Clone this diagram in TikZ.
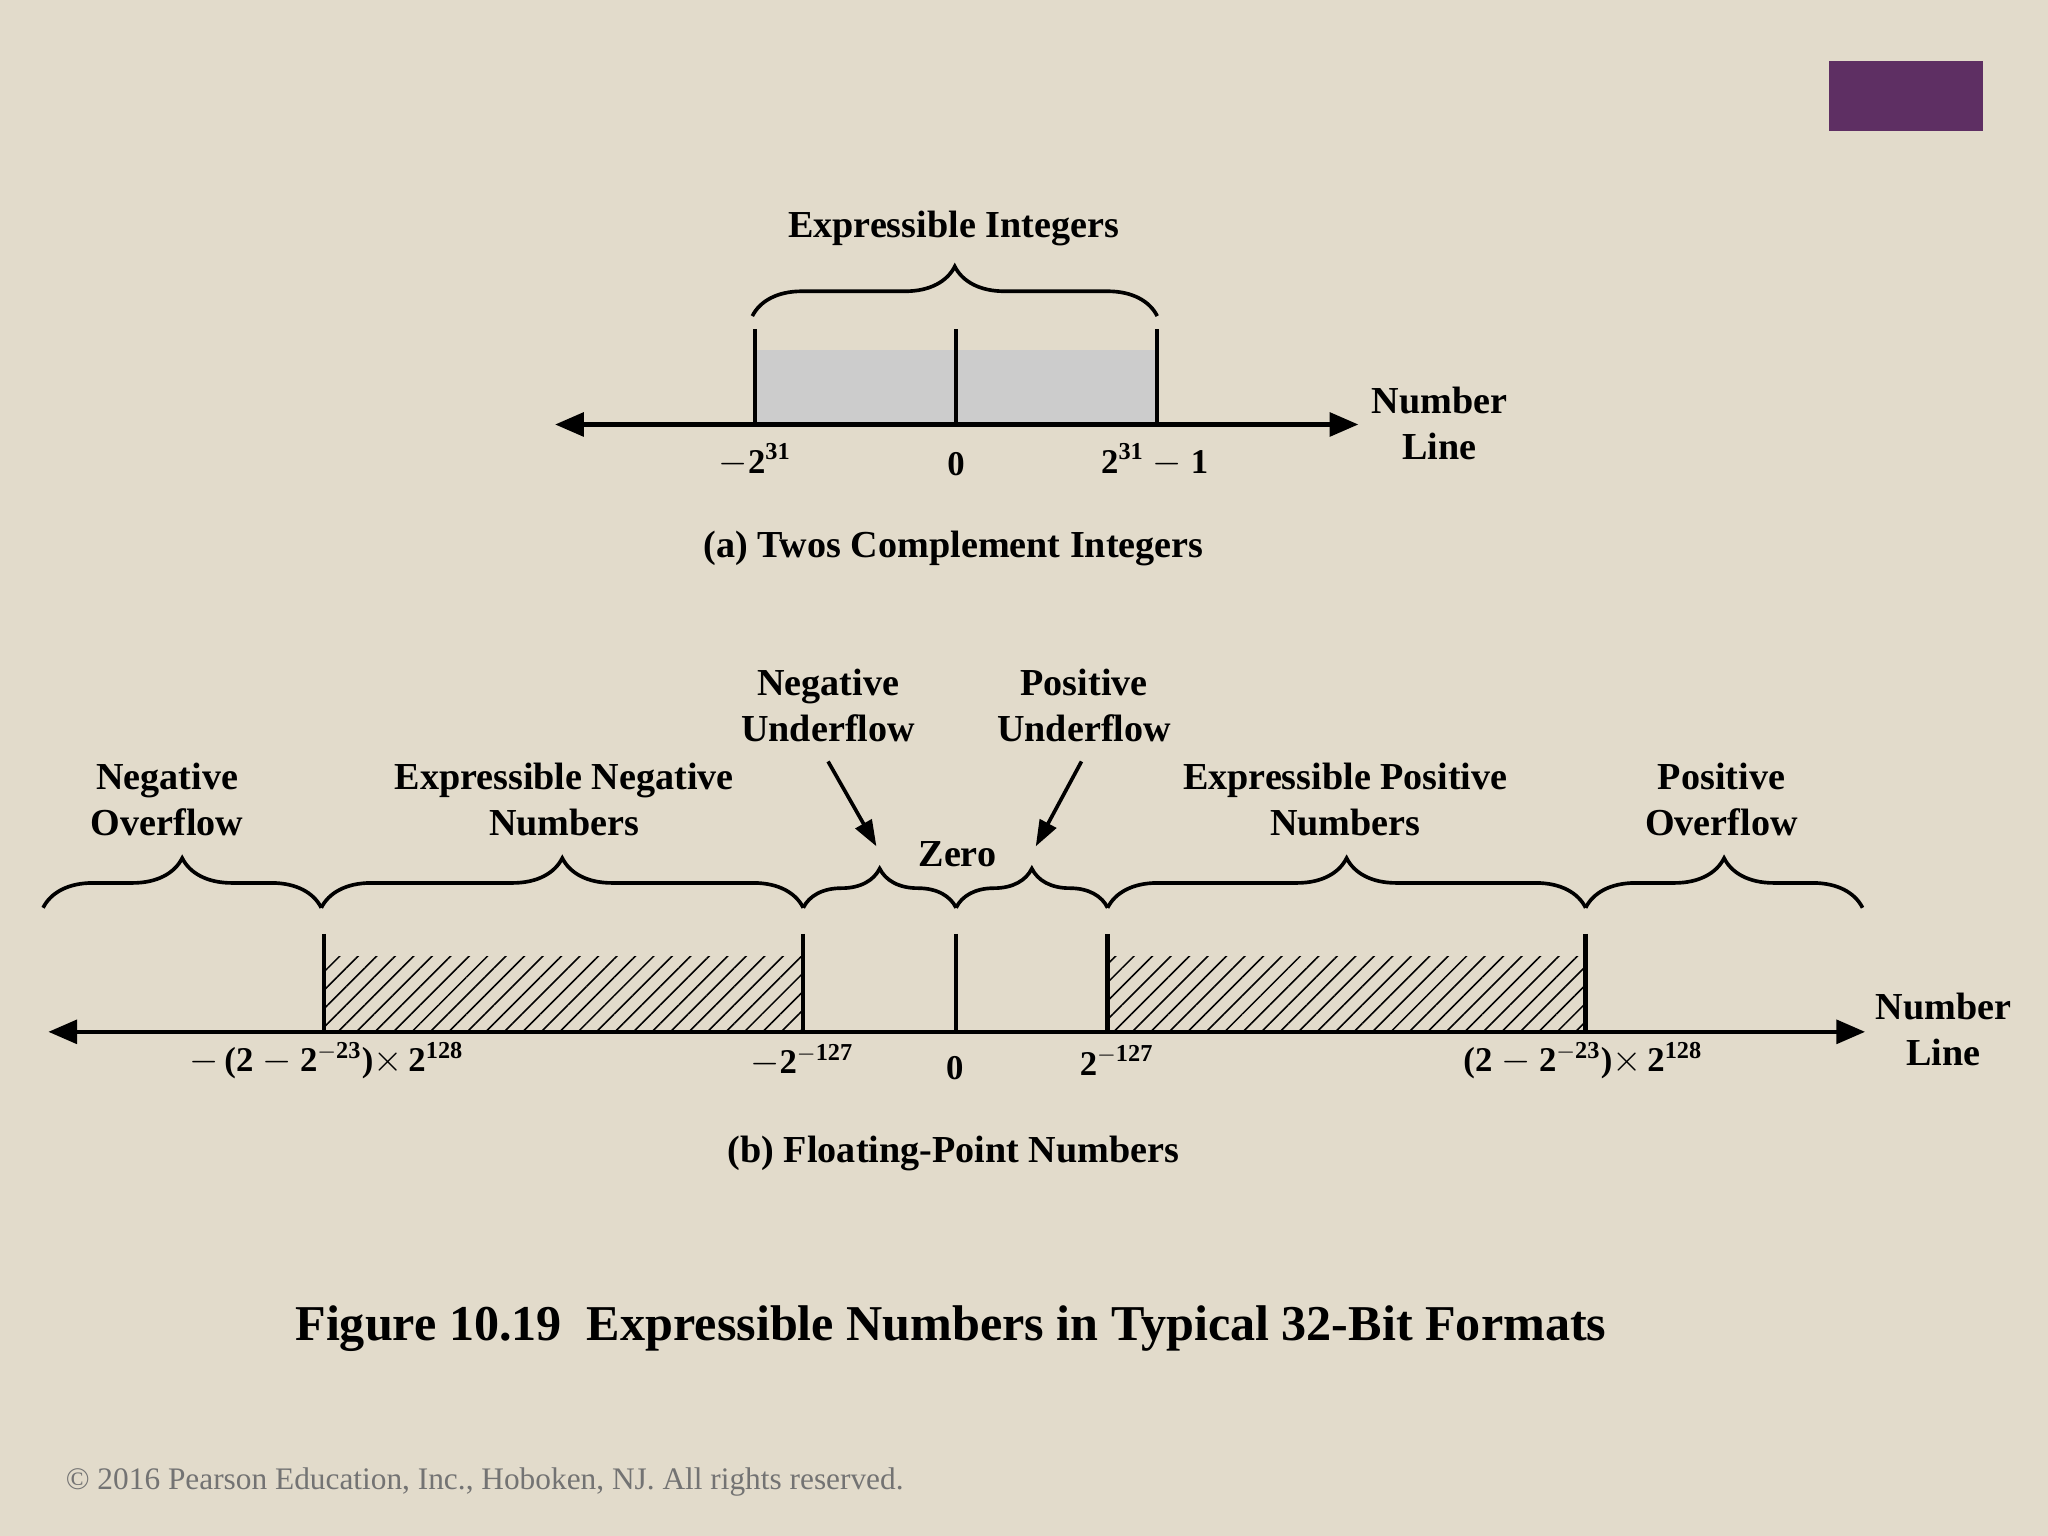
\documentclass[tikz,border=0pt]{standalone}
\usepackage{fontspec}
\setmainfont{Liberation Serif}
\usetikzlibrary{decorations.pathreplacing,patterns.meta,arrows.meta}
\definecolor{bg}{HTML}{E2DBCB}
\definecolor{purp}{HTML}{5E2F63}
\begin{document}
\begin{tikzpicture}[x=0.5pt,y=-0.5pt,
  lbl/.style={font=\bfseries\fontsize{14.6}{17.5}\selectfont,align=center,inner sep=0pt},
  tick/.style={font=\bfseries\fontsize{13.3}{15}\selectfont,inner sep=0pt},
  axis/.style={line width=1.7pt,{Triangle[length=11pt,width=9pt]}-{Triangle[length=11pt,width=9pt]}},
  tk/.style={line width=1.7pt},
  br/.style={line width=1.4pt,decorate,decoration={brace,amplitude=19pt}},
  sbr/.style={line width=1.4pt,decorate,decoration={brace,amplitude=15pt}},
  hatch/.style={pattern={Lines[angle=45,distance=5pt,line width=0.6pt]}},
  arr/.style={line width=1.4pt,-{Triangle[length=10pt,width=7pt]}}]
\fill[bg] (0,0) rectangle (1568,1176);
\useasboundingbox (0,0) rectangle (1568,1176);
\fill[purp] (1400,47) rectangle (1518,100);
% (a)
\fill[gray!40] (578,268) rectangle (886,325);
\coordinate (aL) at (425,325); \coordinate (aR) at (1040,325);
\draw[axis] (aL) -- (aR);
\foreach \x/\n in {578/a1,732/a2,886/a3}{\coordinate (\n t) at (\x,252); \coordinate (\n b) at (\x,325); \draw[tk] (\n t) -- (\n b);}
\coordinate (ab1) at (576,242); \coordinate (ab2) at (886,242);
\draw[br] (ab1) -- (ab2);
\node[lbl] (ei) at (730,175) {Expressible Integers};
\node[tick] (t1) at (578,352) {$\mathbf{-}$2$^{\mathbf{31}}$};
\node[tick] (t2) at (732,355) {0};
\node[tick] (t3) at (884,352) {2$^{\mathbf{31}}$ $\mathbf{-}$ 1};
\node[lbl] (nla) at (1102,324) {Number\\Line};
\node[lbl] (capa) at (730,420) {(a) Twos Complement Integers};
% (b)
\fill[hatch] (248,732) rectangle (615,790);
\fill[hatch] (848,732) rectangle (1214,790);
\coordinate (bL) at (37,790); \coordinate (bR) at (1428,790);
\draw[axis] (bL) -- (bR);
\foreach \x/\n in {248/b1,615/b2,732/b3,848/b4,1214/b5}{\coordinate (\n t) at (\x,715); \coordinate (\n b) at (\x,790); \draw[tk] (\n t) -- (\n b);}
\coordinate (c0) at (33,695); \coordinate (c1) at (246,695); \coordinate (c2) at (615,695);
\coordinate (c3) at (732,695); \coordinate (c4) at (848,695); \coordinate (c5) at (1214,695); \coordinate (c6) at (1426,695);
\draw[br] (c0) -- (c1); \draw[br] (c1) -- (c2); \draw[sbr] (c2) -- (c3); \draw[sbr] (c3) -- (c4);
\draw[br] (c4) -- (c5); \draw[br] (c5) -- (c6);
\node[lbl] (no) at (128,612) {Negative\\Overflow};
\node[lbl] (en) at (432,612) {Expressible Negative\\Numbers};
\node[lbl] (nu) at (634,540) {Negative\\Underflow};
\node[lbl] (pu) at (830,540) {Positive\\Underflow};
\node[lbl] (z) at (733,654) {Zero};
\node[lbl] (ep) at (1030,612) {Expressible Positive\\Numbers};
\node[lbl] (po) at (1318,612) {Positive\\Overflow};
\coordinate (nuA) at (671,648); \coordinate (puA) at (793,648);
\draw[arr] (634,583) -- (nuA);
\draw[arr] (828,583) -- (puA);
\node[tick] (s1) at (250,812) {$\mathbf{-}$\,(2 $\mathbf{-}$ 2$^{\mathbf{-23}}$)$\mathbf{\times}$\,2$^{\mathbf{128}}$};
\node[tick] (s2) at (614,812) {$\mathbf{-}$2$^{\mathbf{-127}}$};
\node[tick] (s3) at (731,818) {0};
\node[tick] (s4) at (855,812) {2$^{\mathbf{-127}}$};
\node[tick] (s5) at (1212,812) {(2 $\mathbf{-}$ 2$^{\mathbf{-23}}$)$\mathbf{\times}$\,2$^{\mathbf{128}}$};
\node[lbl] (nlb) at (1488,788) {Number\\Line};
\node[lbl] (capb) at (730,883) {(b) Floating-Point Numbers};
\node[inner sep=0pt,font=\bfseries\fontsize{19.2}{22}\selectfont] (fig) at (728,1017) {Figure 10.19\ \ Expressible Numbers in Typical 32-Bit Formats};
\node[inner sep=0pt,text=gray!90!black,font=\fontsize{12}{14}\selectfont,anchor=west] (cp) at (50,1135) {© 2016 Pearson Education, Inc., Hoboken, NJ. All rights reserved.};
\end{tikzpicture}
\end{document}
